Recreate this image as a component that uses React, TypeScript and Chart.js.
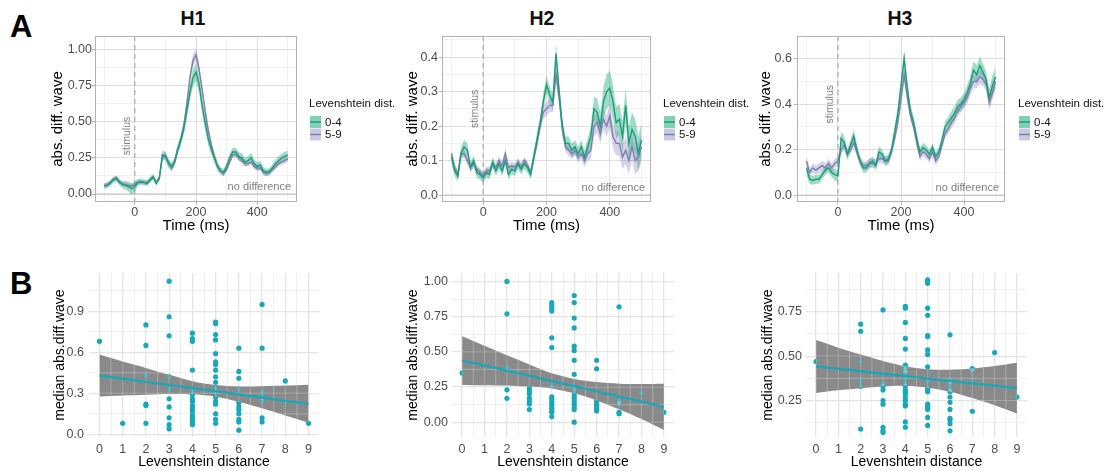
import React, { useEffect, useRef } from "react";
import { Chart, registerables } from "chart.js";

Chart.register(...registerables);

const FONT = "'Liberation Sans', Arial, Helvetica, sans-serif";

// ---------------- data: panel A (time courses) ----------------
const TIMES = [
  -100, -90, -80, -70, -60, -50, -40, -30, -20, -10,
  0, 10, 20, 30, 40, 50, 60, 70, 80, 90,
  100, 110, 120, 130, 140, 150, 160, 170, 180, 190,
  200, 210, 220, 230, 240, 250, 260, 270, 280, 290,
  300, 310, 320, 330, 340, 350, 360, 370, 380, 390,
  400, 410, 420, 430, 440, 450, 460, 470, 480, 490,
  500,
];

const H1_04 = [
  0.055, 0.06, 0.075, 0.10, 0.105, 0.08, 0.065, 0.06, 0.05, 0.035,
  0.05, 0.08, 0.085, 0.08, 0.075, 0.10, 0.12, 0.075, 0.11, 0.27,
  0.26, 0.21, 0.19, 0.22, 0.31, 0.37, 0.45, 0.57, 0.70, 0.80,
  0.84, 0.76, 0.61, 0.49, 0.38, 0.31, 0.25, 0.19, 0.16, 0.15,
  0.19, 0.25, 0.29, 0.29, 0.26, 0.25, 0.22, 0.23, 0.25, 0.21,
  0.19, 0.20, 0.16, 0.15, 0.155, 0.18, 0.21, 0.23, 0.25, 0.26,
  0.27,
];
const H1_04_SE = [
  0.02, 0.02, 0.02, 0.02, 0.02, 0.02, 0.025, 0.03, 0.035, 0.04,
  0.035, 0.025, 0.02, 0.02, 0.02, 0.02, 0.02, 0.02, 0.02, 0.03,
  0.03, 0.03, 0.03, 0.03, 0.035, 0.04, 0.045, 0.05, 0.055, 0.06,
  0.06, 0.06, 0.055, 0.05, 0.045, 0.04, 0.035, 0.03, 0.025, 0.025,
  0.025, 0.03, 0.03, 0.03, 0.03, 0.03, 0.03, 0.03, 0.035, 0.03,
  0.03, 0.03, 0.025, 0.025, 0.025, 0.025, 0.03, 0.03, 0.03, 0.03,
  0.03,
];
const H1_59 = [
  0.06, 0.065, 0.08, 0.10, 0.115, 0.085, 0.07, 0.065, 0.06, 0.055,
  0.065, 0.08, 0.085, 0.08, 0.075, 0.095, 0.115, 0.08, 0.105, 0.25,
  0.27, 0.22, 0.18, 0.22, 0.30, 0.37, 0.47, 0.62, 0.80, 0.92,
  0.96, 0.86, 0.72, 0.57, 0.44, 0.34, 0.26, 0.20, 0.16, 0.14,
  0.17, 0.22, 0.27, 0.27, 0.25, 0.23, 0.21, 0.21, 0.22, 0.19,
  0.18, 0.18, 0.15, 0.14, 0.15, 0.17, 0.19, 0.21, 0.22, 0.23,
  0.24,
];
const H1_59_SE = [
  0.015, 0.015, 0.015, 0.015, 0.015, 0.015, 0.015, 0.015, 0.015, 0.015,
  0.015, 0.015, 0.015, 0.015, 0.015, 0.015, 0.015, 0.015, 0.015, 0.02,
  0.025, 0.025, 0.025, 0.025, 0.03, 0.03, 0.035, 0.04, 0.04, 0.045,
  0.045, 0.045, 0.04, 0.04, 0.035, 0.03, 0.025, 0.02, 0.02, 0.02,
  0.02, 0.02, 0.02, 0.02, 0.02, 0.02, 0.02, 0.02, 0.02, 0.02,
  0.02, 0.02, 0.02, 0.02, 0.02, 0.02, 0.02, 0.02, 0.02, 0.02,
  0.02,
];

const H2_04 = [
  0.11, 0.07, 0.055, 0.12, 0.14, 0.13, 0.08, 0.10, 0.065, 0.06,
  0.05, 0.065, 0.06, 0.095, 0.07, 0.09, 0.07, 0.10, 0.06, 0.075,
  0.07, 0.09, 0.075, 0.09, 0.08, 0.06, 0.11, 0.16, 0.21, 0.27,
  0.32, 0.29, 0.27, 0.41, 0.30, 0.20, 0.15, 0.15, 0.13, 0.14,
  0.12, 0.14, 0.11, 0.14, 0.17, 0.25, 0.24, 0.20, 0.27, 0.30,
  0.31, 0.27, 0.21, 0.22, 0.17, 0.26, 0.15, 0.19, 0.17, 0.12,
  0.16,
];
const H2_04_SE = [
  0.02, 0.015, 0.015, 0.02, 0.02, 0.02, 0.015, 0.015, 0.015, 0.015,
  0.015, 0.015, 0.015, 0.015, 0.015, 0.015, 0.015, 0.015, 0.015, 0.015,
  0.015, 0.015, 0.015, 0.015, 0.015, 0.015, 0.02, 0.02, 0.02, 0.025,
  0.025, 0.025, 0.025, 0.03, 0.025, 0.025, 0.02, 0.02, 0.02, 0.02,
  0.02, 0.02, 0.02, 0.025, 0.03, 0.035, 0.04, 0.04, 0.045, 0.05,
  0.05, 0.05, 0.045, 0.045, 0.045, 0.05, 0.05, 0.05, 0.05, 0.05,
  0.05,
];
const H2_59 = [
  0.12, 0.08, 0.06, 0.12, 0.12, 0.10, 0.08, 0.09, 0.075, 0.065,
  0.055, 0.07, 0.07, 0.09, 0.08, 0.10, 0.085, 0.12, 0.08, 0.085,
  0.08, 0.095, 0.08, 0.10, 0.085, 0.065, 0.11, 0.15, 0.20, 0.24,
  0.25, 0.26, 0.26, 0.35, 0.28, 0.19, 0.14, 0.13, 0.12, 0.13,
  0.11, 0.12, 0.10, 0.12, 0.13, 0.20, 0.21, 0.18, 0.22, 0.20,
  0.23, 0.17, 0.15, 0.15, 0.11, 0.13, 0.10, 0.14, 0.10, 0.11,
  0.14,
];
const H2_59_SE = [
  0.012, 0.012, 0.012, 0.012, 0.012, 0.012, 0.012, 0.012, 0.012, 0.012,
  0.012, 0.012, 0.012, 0.012, 0.012, 0.012, 0.012, 0.015, 0.012, 0.012,
  0.012, 0.012, 0.012, 0.012, 0.012, 0.012, 0.015, 0.015, 0.015, 0.02,
  0.02, 0.02, 0.02, 0.025, 0.02, 0.02, 0.015, 0.015, 0.015, 0.015,
  0.015, 0.015, 0.02, 0.02, 0.025, 0.03, 0.03, 0.03, 0.03, 0.03,
  0.035, 0.035, 0.035, 0.035, 0.035, 0.04, 0.04, 0.04, 0.04, 0.04,
  0.04,
];

const H3_04 = [
  0.12, 0.07, 0.065, 0.07, 0.07, 0.09, 0.11, 0.12, 0.10, 0.09,
  0.085, 0.25, 0.23, 0.18, 0.22, 0.26, 0.20, 0.15, 0.12, 0.12,
  0.14, 0.15, 0.13, 0.19, 0.18, 0.15, 0.16, 0.20, 0.28, 0.36,
  0.48, 0.60, 0.47, 0.37, 0.32, 0.25, 0.19, 0.21, 0.20, 0.18,
  0.21, 0.17, 0.19, 0.24, 0.30, 0.32, 0.34, 0.36, 0.39, 0.40,
  0.42, 0.45, 0.49, 0.55, 0.53, 0.57, 0.54, 0.51, 0.43, 0.48,
  0.52,
];
const H3_04_SE = [
  0.03, 0.02, 0.02, 0.02, 0.02, 0.02, 0.02, 0.02, 0.02, 0.025,
  0.025, 0.03, 0.03, 0.025, 0.025, 0.03, 0.025, 0.02, 0.02, 0.02,
  0.02, 0.02, 0.02, 0.025, 0.02, 0.02, 0.02, 0.02, 0.025, 0.03,
  0.035, 0.04, 0.035, 0.03, 0.025, 0.025, 0.02, 0.02, 0.02, 0.02,
  0.02, 0.02, 0.02, 0.025, 0.025, 0.025, 0.03, 0.03, 0.03, 0.03,
  0.03, 0.035, 0.035, 0.04, 0.04, 0.04, 0.04, 0.035, 0.04, 0.045,
  0.045,
];
const H3_59 = [
  0.15, 0.10, 0.12, 0.11, 0.12, 0.13, 0.12, 0.14, 0.12, 0.14,
  0.15, 0.20, 0.22, 0.18, 0.20, 0.23, 0.19, 0.15, 0.13, 0.13,
  0.14, 0.14, 0.14, 0.16, 0.16, 0.15, 0.15, 0.19, 0.25, 0.32,
  0.42, 0.53, 0.43, 0.35, 0.30, 0.23, 0.17, 0.19, 0.18, 0.16,
  0.19, 0.15, 0.17, 0.22, 0.27, 0.29, 0.32, 0.34, 0.37, 0.39,
  0.41, 0.43, 0.47, 0.50, 0.50, 0.52, 0.51, 0.49, 0.41, 0.45,
  0.50,
];
const H3_59_SE = [
  0.025, 0.02, 0.02, 0.02, 0.02, 0.02, 0.02, 0.02, 0.02, 0.02,
  0.02, 0.02, 0.02, 0.02, 0.02, 0.02, 0.02, 0.02, 0.02, 0.02,
  0.02, 0.02, 0.02, 0.02, 0.02, 0.02, 0.02, 0.02, 0.02, 0.02,
  0.025, 0.03, 0.025, 0.02, 0.02, 0.02, 0.02, 0.02, 0.02, 0.02,
  0.02, 0.02, 0.02, 0.02, 0.02, 0.02, 0.025, 0.025, 0.025, 0.025,
  0.025, 0.03, 0.03, 0.03, 0.03, 0.03, 0.03, 0.03, 0.035, 0.035,
  0.035,
];

const PANEL_TITLES = ["H1", "H2", "H3"];
const LEGEND_TITLE = "Levenshtein dist.";
const GROUPS = ["0-4", "5-9"];
const STIM_LABEL = "stimulus";
const NO_DIFF_LABEL = "no difference";
const STIM_Y = [0.4, 0.25, 0.4];

const TIME_TICKS = [0, 200, 400];
const TIME_LABELS = ["0", "200", "400"];
const TIME_MINOR = [-100, 100, 300, 500];

const H1_Y_TICKS = [0, 0.25, 0.5, 0.75, 1.0];
const H1_Y_LABELS = ["0.00", "0.25", "0.50", "0.75", "1.00"];
const H1_Y_MINOR = [0.125, 0.375, 0.625, 0.875];
const H2_Y_TICKS = [0, 0.1, 0.2, 0.3, 0.4];
const H2_Y_LABELS = ["0.0", "0.1", "0.2", "0.3", "0.4"];
const H2_Y_MINOR = [0.05, 0.15, 0.25, 0.35, 0.45];
const H3_Y_TICKS = [0, 0.2, 0.4, 0.6];
const H3_Y_LABELS = ["0.0", "0.2", "0.4", "0.6"];
const H3_Y_MINOR = [0.1, 0.3, 0.5];

// ---------------- data: panel B (scatter + linear fit) ----------------
const LEV = [0, 1, 2, 3, 4, 5, 6, 7, 8, 9];
const LEV_LABELS = ["0", "1", "2", "3", "4", "5", "6", "7", "8", "9"];
const LEV_MINOR = [0.5, 1.5, 2.5, 3.5, 4.5, 5.5, 6.5, 7.5, 8.5];

const B1_VALUES = [
  [0.68],
  [0.08],
  [0.80, 0.65, 0.43, 0.22, 0.21, 0.08],
  [1.12, 0.86, 0.72, 0.42, 0.33, 0.26, 0.20, 0.12, 0.07, 0.04],
  [0.74, 0.70, 0.68, 0.47, 0.33, 0.29, 0.26, 0.24, 0.21, 0.19, 0.17, 0.14, 0.12, 0.10, 0.08, 0.07],
  [0.82, 0.81, 0.73, 0.69, 0.59, 0.53, 0.51, 0.47, 0.42, 0.38, 0.34, 0.31, 0.27, 0.24, 0.22, 0.15, 0.11, 0.08],
  [0.63, 0.46, 0.41, 0.33, 0.23, 0.20, 0.18, 0.15, 0.11, 0.09, 0.03],
  [0.95, 0.63, 0.31, 0.27, 0.24, 0.12, 0.09],
  [0.39, 0.24],
  [0.08],
];
const B1_FIT = [0.43, 0.407, 0.384, 0.361, 0.338, 0.315, 0.292, 0.269, 0.245, 0.222];
const B1_HI = [0.583, 0.532, 0.485, 0.435, 0.388, 0.36, 0.35, 0.352, 0.356, 0.362];
const B1_LO = [0.277, 0.284, 0.29, 0.294, 0.292, 0.275, 0.238, 0.19, 0.138, 0.086];

const B2_VALUES = [
  [0.35],
  [],
  [1.0, 0.77, 0.39, 0.23, 0.17],
  [0.24, 0.22, 0.20, 0.17, 0.15, 0.13, 0.09],
  [0.85, 0.83, 0.81, 0.79, 0.60, 0.53, 0.26, 0.18, 0.16, 0.14, 0.12, 0.10, 0.08, 0.07, 0.04],
  [0.90, 0.85, 0.74, 0.67, 0.54, 0.51, 0.44, 0.34, 0.25, 0.22, 0.19, 0.17, 0.15, 0.13, 0.11, 0.09, 0.0],
  [0.44, 0.38, 0.15, 0.13, 0.12, 0.10, 0.09, 0.08],
  [0.82, 0.15, 0.13, 0.07, 0.06],
  [0.21],
  [0.07],
];
const B2_FIT = [0.44, 0.403, 0.366, 0.329, 0.292, 0.256, 0.219, 0.182, 0.146, 0.109];
const B2_HI = [0.61, 0.543, 0.475, 0.41, 0.347, 0.307, 0.285, 0.274, 0.272, 0.274];
const B2_LO = [0.265, 0.263, 0.26, 0.253, 0.24, 0.205, 0.155, 0.092, 0.022, -0.056];

const B3_VALUES = [
  [0.47],
  [],
  [0.68, 0.64, 0.47, 0.36, 0.33, 0.09],
  [0.76, 0.35, 0.33, 0.31, 0.25, 0.23, 0.10, 0.08, 0.07],
  [0.78, 0.77, 0.69, 0.60, 0.54, 0.45, 0.44, 0.42, 0.41, 0.38, 0.35, 0.33, 0.31, 0.30, 0.29, 0.27, 0.25, 0.23, 0.22, 0.13, 0.10],
  [0.93, 0.92, 0.91, 0.77, 0.73, 0.615, 0.61, 0.535, 0.51, 0.44, 0.36, 0.32, 0.31, 0.30, 0.23, 0.22, 0.21, 0.20, 0.155, 0.11],
  [0.62, 0.36, 0.34, 0.31, 0.30, 0.27, 0.24, 0.20, 0.15, 0.14, 0.12, 0.08],
  [0.43, 0.42, 0.35, 0.19],
  [0.52],
  [0.27],
];
const B3_FIT = [0.442, 0.428, 0.415, 0.401, 0.388, 0.374, 0.361, 0.347, 0.334, 0.32];
const B3_HI = [0.591, 0.548, 0.51, 0.473, 0.443, 0.426, 0.423, 0.43, 0.444, 0.463];
const B3_LO = [0.293, 0.308, 0.32, 0.329, 0.333, 0.322, 0.299, 0.264, 0.224, 0.177];

const B1_Y_TICKS = [0, 0.3, 0.6, 0.9];
const B1_Y_LABELS = ["0.0", "0.3", "0.6", "0.9"];
const B1_Y_MINOR = [0.15, 0.45, 0.75, 1.05];
const B2_Y_TICKS = [0, 0.25, 0.5, 0.75, 1.0];
const B2_Y_LABELS = ["0.00", "0.25", "0.50", "0.75", "1.00"];
const B2_Y_MINOR = [0.125, 0.375, 0.625, 0.875];
const B3_Y_TICKS = [0.25, 0.5, 0.75];
const B3_Y_LABELS = ["0.25", "0.50", "0.75"];
const B3_Y_MINOR = [0.125, 0.375, 0.625, 0.875];

// ---------------- styles ----------------
const G_LINE = "#1b9e77";
const P_LINE = "#7d7fae";
const G_BAND = "rgba(27,170,125,0.42)";
const P_BAND = "rgba(125,122,185,0.32)";
const G_KEY = "rgba(27,170,125,0.55)";
const P_KEY = "rgba(125,122,185,0.4)";
const TEAL = "#17a8b9";
const GRAY_BAND = "rgba(60,60,60,0.6)";
const AXIS_TEXT = "#4d4d4d";
const NONE = "rgba(0,0,0,0)";

type Rect = { l: number; t: number; w: number; h: number };
type Plot = { l: number; t: number; r: number; b: number };
type Tk = { value: number; minor: boolean };

function tickSet(major: number[], minor: number[]): Tk[] {
  return [
    ...major.map((v) => ({ value: v, minor: false })),
    ...minor.map((v) => ({ value: v, minor: true })),
  ].sort((a, b) => a.value - b.value);
}

function labeler(major: number[], labels: string[]) {
  return (value: number) => {
    const i = major.indexOf(value);
    return i >= 0 ? labels[i] : "";
  };
}

function line(ctx: CanvasRenderingContext2D, x1: number, y1: number, x2: number, y2: number) {
  ctx.beginPath();
  ctx.moveTo(x1, y1);
  ctx.lineTo(x2, y2);
  ctx.stroke();
}

interface TopSpec {
  idx: number;
  canvas: Rect;
  plot: Plot;
  yTitleX: number;
  yLabelRight: number;
  legendX: number;
  m04: number[];
  s04: number[];
  m59: number[];
  s59: number[];
  yMin: number;
  yMax: number;
  yTicks: number[];
  yLabels: string[];
  yMinor: number[];
}

function buildTop(sp: TopSpec) {
  const c = sp.canvas;
  const p = sp.plot;
  const yAxisW = p.l - c.l;
  const padTop = p.t - c.t;
  const padRight = c.l + c.w - p.r;
  const xAxisH = c.t + c.h - p.b;
  const tickLen = 3;
  const ser = (m: number[], s: number[], k: number) => TIMES.map((t, i) => ({ x: t, y: m[i] + k * s[i] }));
  const lineDs = (label: string, data: any[], color: string) => ({
    label, data, borderColor: color, borderWidth: 1.4, pointRadius: 0, fill: false, tension: 0,
  });
  const bandDs = (label: string, data: any[], fill: any, bg: string) => ({
    label, data, borderColor: NONE, borderWidth: 0, pointRadius: 0, fill, backgroundColor: bg, tension: 0,
  });
  const xT = tickSet(TIME_TICKS, TIME_MINOR);
  const yT = tickSet(sp.yTicks, sp.yMinor);
  const grid = {
    color: (ctx: any) => (ctx.tick && ctx.tick.minor ? "#eeeeee" : "#dedede"),
    lineWidth: (ctx: any) => (ctx.tick && ctx.tick.minor ? 0.8 : 1),
    drawTicks: true,
    tickLength: tickLen,
    tickColor: (ctx: any) => (ctx.tick && ctx.tick.minor ? NONE : "#b3b3b3"),
    tickWidth: 1,
  };
  const decor = {
    id: "topDecor" + sp.idx,
    beforeDatasetsDraw(chart: any) {
      const { ctx, chartArea: a, scales } = chart;
      const x = scales.x;
      const y = scales.y;
      ctx.save();
      const y0 = y.getPixelForValue(0);
      ctx.strokeStyle = "#bdbdbd";
      ctx.lineWidth = 1;
      line(ctx, a.left, y0, a.right, y0);
      const x0 = x.getPixelForValue(0);
      ctx.setLineDash([5, 4]);
      ctx.strokeStyle = "#a9a9a9";
      ctx.lineWidth = 1.2;
      line(ctx, x0, a.top, x0, a.bottom);
      ctx.setLineDash([]);
      ctx.translate(x0 - 8, y.getPixelForValue(STIM_Y[sp.idx]));
      ctx.rotate(-Math.PI / 2);
      ctx.font = `10.5px ${FONT}`;
      ctx.fillStyle = "#808080";
      ctx.textAlign = "center";
      ctx.textBaseline = "middle";
      ctx.fillText(STIM_LABEL, 0, 0);
      ctx.restore();
    },
    afterDraw(chart: any) {
      const { ctx, chartArea: a, scales } = chart;
      const y = scales.y;
      ctx.save();
      ctx.strokeStyle = "#b3b3b3";
      ctx.lineWidth = 1;
      ctx.strokeRect(Math.round(a.left) + 0.5, Math.round(a.top) + 0.5, Math.round(a.right - a.left) - 1, Math.round(a.bottom - a.top) - 1);
      ctx.font = `11px ${FONT}`;
      ctx.fillStyle = "#808080";
      ctx.textAlign = "right";
      ctx.textBaseline = "middle";
      ctx.fillText(NO_DIFF_LABEL, a.right - 6, y.getPixelForValue(0) - 7);
      const lx = sp.legendX - c.l;
      ctx.textAlign = "left";
      ctx.fillStyle = "#111";
      ctx.font = `11.5px ${FONT}`;
      ctx.fillText(LEGEND_TITLE, lx, 103.5 - c.t);
      GROUPS.forEach((g, i) => {
        const ky = 116 + i * 12.5 - c.t;
        ctx.fillStyle = i === 0 ? G_KEY : P_KEY;
        ctx.fillRect(lx + 1, ky, 11, 12);
        ctx.strokeStyle = i === 0 ? G_LINE : P_LINE;
        ctx.lineWidth = 1.5;
        line(ctx, lx + 1, ky + 6, lx + 12, ky + 6);
        ctx.fillStyle = "#111";
        ctx.font = `11.5px ${FONT}`;
        ctx.fillText(g, lx + 16, ky + 6.5);
      });
      ctx.restore();
    },
  };
  return {
    type: "line",
    data: {
      datasets: [
        lineDs(GROUPS[0], ser(sp.m04, sp.s04, 0), G_LINE),
        lineDs(GROUPS[1], ser(sp.m59, sp.s59, 0), P_LINE),
        bandDs(GROUPS[1] + " upper", ser(sp.m59, sp.s59, 1), "+1", P_BAND),
        bandDs(GROUPS[1] + " lower", ser(sp.m59, sp.s59, -1), false, P_BAND),
        bandDs(GROUPS[0] + " upper", ser(sp.m04, sp.s04, 1), "+1", G_BAND),
        bandDs(GROUPS[0] + " lower", ser(sp.m04, sp.s04, -1), false, G_BAND),
      ],
    },
    options: {
      animation: false,
      responsive: false,
      devicePixelRatio: 1,
      layout: { padding: { left: 0, right: padRight, top: padTop, bottom: 0 } },
      plugins: { legend: { display: false }, tooltip: { enabled: false } },
      scales: {
        x: {
          type: "linear",
          min: -130,
          max: 530,
          bounds: "data",
          afterFit: (s: any) => { s.height = xAxisH; },
          afterBuildTicks: (s: any) => { s.ticks = xT.map((t) => ({ ...t })); },
          ticks: {
            autoSkip: false, maxRotation: 0, minRotation: 0, padding: 0,
            color: AXIS_TEXT, font: { family: FONT, size: 12.5 },
            callback: labeler(TIME_TICKS, TIME_LABELS),
          },
          grid,
          border: { display: false },
          title: { display: true, text: "Time (ms)", color: "#000", font: { family: FONT, size: 15 }, padding: { top: 0, bottom: 5 } },
        },
        y: {
          type: "linear",
          min: sp.yMin,
          max: sp.yMax,
          bounds: "data",
          afterFit: (s: any) => { s.width = yAxisW; },
          afterBuildTicks: (s: any) => { s.ticks = yT.map((t) => ({ ...t })); },
          ticks: {
            autoSkip: false, padding: Math.max(0, p.l - tickLen - sp.yLabelRight),
            color: AXIS_TEXT, font: { family: FONT, size: 12.5 },
            callback: labeler(sp.yTicks, sp.yLabels),
          },
          grid,
          border: { display: false },
          title: { display: true, text: "abs. diff. wave", color: "#000", font: { family: FONT, size: 15 }, padding: { top: sp.yTitleX - c.l - 9, bottom: 0 } },
        },
      },
    },
    plugins: [decor],
  };
}

interface BotSpec {
  idx: number;
  canvas: Rect;
  plot: Plot;
  yTitleX: number;
  yLabelRight: number;
  values: number[][];
  fit: number[];
  hi: number[];
  lo: number[];
  yMin: number;
  yMax: number;
  yTicks: number[];
  yLabels: string[];
  yMinor: number[];
}

function buildBottom(sp: BotSpec) {
  const c = sp.canvas;
  const p = sp.plot;
  const yAxisW = p.l - c.l;
  const padTop = p.t - c.t;
  const padRight = c.l + c.w - p.r;
  const xAxisH = c.t + c.h - p.b;
  const xT = tickSet(LEV, LEV_MINOR);
  const yT = tickSet(sp.yTicks, sp.yMinor);
  const pts: { x: number; y: number }[] = [];
  LEV.forEach((d) => sp.values[d].forEach((v) => pts.push({ x: d, y: v })));
  const grid = {
    color: (ctx: any) => (ctx.tick && ctx.tick.minor ? "#efefef" : "#e4e4e4"),
    lineWidth: (ctx: any) => (ctx.tick && ctx.tick.minor ? 1 : 1.3),
    drawTicks: false,
  };
  const decor = {
    id: "botDecor" + sp.idx,
    afterDatasetDraw(chart: any, args: any) {
      if (args.index !== 1) return;
      const hi = chart.getDatasetMeta(1).data;
      const lo = chart.getDatasetMeta(2).data;
      const dots = chart.getDatasetMeta(3).data;
      const { ctx, chartArea: a, scales } = chart;
      ctx.save();
      ctx.beginPath();
      hi.forEach((q: any, i: number) => (i ? ctx.lineTo(q.x, q.y) : ctx.moveTo(q.x, q.y)));
      for (let i = lo.length - 1; i >= 0; i--) ctx.lineTo(lo[i].x, lo[i].y);
      ctx.closePath();
      ctx.clip();
      ctx.strokeStyle = "rgba(255,255,255,0.3)";
      ctx.lineWidth = 1;
      xT.forEach((t) => { const px = scales.x.getPixelForValue(t.value); line(ctx, px, a.top, px, a.bottom); });
      yT.forEach((t) => { const py = scales.y.getPixelForValue(t.value); line(ctx, a.left, py, a.right, py); });
      ctx.fillStyle = "rgba(150,225,235,0.5)";
      dots.forEach((q: any) => { ctx.beginPath(); ctx.arc(q.x, q.y, 2.6, 0, Math.PI * 2); ctx.fill(); });
      ctx.restore();
    },
  };
  return {
    type: "line",
    data: {
      datasets: [
        { label: "fit", data: LEV.map((x, i) => ({ x, y: sp.fit[i] })), borderColor: TEAL, borderWidth: 2.3, pointRadius: 0, fill: false, tension: 0 },
        { label: "ci upper", data: LEV.map((x, i) => ({ x, y: sp.hi[i] })), borderColor: NONE, borderWidth: 0, pointRadius: 0, fill: "+1", backgroundColor: GRAY_BAND, tension: 0.3 },
        { label: "ci lower", data: LEV.map((x, i) => ({ x, y: sp.lo[i] })), borderColor: NONE, borderWidth: 0, pointRadius: 0, fill: false, tension: 0.3 },
        { label: "words", data: pts, showLine: false, pointRadius: 2.6, pointBackgroundColor: TEAL, pointBorderWidth: 0, borderColor: NONE, backgroundColor: TEAL },
      ],
    },
    options: {
      animation: false,
      responsive: false,
      devicePixelRatio: 1,
      layout: { padding: { left: 0, right: padRight, top: padTop, bottom: 0 } },
      plugins: { legend: { display: false }, tooltip: { enabled: false } },
      scales: {
        x: {
          type: "linear",
          min: -0.45,
          max: 9.45,
          bounds: "data",
          afterFit: (s: any) => { s.height = xAxisH; },
          afterBuildTicks: (s: any) => { s.ticks = xT.map((t) => ({ ...t })); },
          ticks: {
            autoSkip: false, maxRotation: 0, minRotation: 0, padding: 5,
            color: AXIS_TEXT, font: { family: FONT, size: 12.5 },
            callback: labeler(LEV, LEV_LABELS),
          },
          grid,
          border: { display: false },
          title: { display: true, text: "Levenshtein distance", color: "#000", font: { family: FONT, size: 14 }, padding: { top: 0, bottom: 0 } },
        },
        y: {
          type: "linear",
          min: sp.yMin,
          max: sp.yMax,
          bounds: "data",
          afterFit: (s: any) => { s.width = yAxisW; },
          afterBuildTicks: (s: any) => { s.ticks = yT.map((t) => ({ ...t })); },
          ticks: {
            autoSkip: false, padding: p.l - sp.yLabelRight,
            color: AXIS_TEXT, font: { family: FONT, size: 12.5 },
            callback: labeler(sp.yTicks, sp.yLabels),
          },
          grid,
          border: { display: false },
          title: { display: true, text: "median abs.diff.wave", color: "#000", font: { family: FONT, size: 14 }, padding: { top: sp.yTitleX - c.l - 8.4, bottom: 0 } },
        },
      },
    },
    plugins: [decor],
  };
}

function ChartBox({ rect, build }: { rect: Rect; build: () => any }) {
  const ref = useRef<HTMLCanvasElement | null>(null);
  useEffect(() => {
    if (!ref.current) return;
    const chart = new Chart(ref.current, build());
    return () => chart.destroy();
  }, []);
  return (
    <div style={{ position: "absolute", left: rect.l, top: rect.t, width: rect.w, height: rect.h }}>
      <canvas ref={ref} width={rect.w} height={rect.h} style={{ width: rect.w, height: rect.h, display: "block" }} />
    </div>
  );
}

const TOP_SPECS: TopSpec[] = [
  {
    idx: 0, canvas: { l: 40, t: 0, w: 355, h: 240 }, plot: { l: 95, t: 36, r: 297, b: 202 },
    yTitleX: 58, yLabelRight: 92, legendX: 309,
    m04: H1_04, s04: H1_04_SE, m59: H1_59, s59: H1_59_SE,
    yMin: -0.055, yMax: 1.09, yTicks: H1_Y_TICKS, yLabels: H1_Y_LABELS, yMinor: H1_Y_MINOR,
  },
  {
    idx: 1, canvas: { l: 395, t: 0, w: 355, h: 240 }, plot: { l: 442, t: 36, r: 651, b: 202 },
    yTitleX: 413, yLabelRight: 438, legendX: 663,
    m04: H2_04, s04: H2_04_SE, m59: H2_59, s59: H2_59_SE,
    yMin: -0.02, yMax: 0.461, yTicks: H2_Y_TICKS, yLabels: H2_Y_LABELS, yMinor: H2_Y_MINOR,
  },
  {
    idx: 2, canvas: { l: 750, t: 0, w: 356, h: 240 }, plot: { l: 797, t: 36, r: 1005, b: 202 },
    yTitleX: 766, yLabelRight: 792, legendX: 1018,
    m04: H3_04, s04: H3_04_SE, m59: H3_59, s59: H3_59_SE,
    yMin: -0.03, yMax: 0.70, yTicks: H3_Y_TICKS, yLabels: H3_Y_LABELS, yMinor: H3_Y_MINOR,
  },
];

const BOT_SPECS: BotSpec[] = [
  {
    idx: 0, canvas: { l: 40, t: 240, w: 330, h: 231 }, plot: { l: 89, t: 273, r: 319, b: 437 },
    yTitleX: 60, yLabelRight: 84,
    values: B1_VALUES, fit: B1_FIT, hi: B1_HI, lo: B1_LO,
    yMin: -0.02, yMax: 1.18, yTicks: B1_Y_TICKS, yLabels: B1_Y_LABELS, yMinor: B1_Y_MINOR,
  },
  {
    idx: 1, canvas: { l: 395, t: 240, w: 330, h: 231 }, plot: { l: 452, t: 273, r: 674, b: 437 },
    yTitleX: 413, yLabelRight: 448,
    values: B2_VALUES, fit: B2_FIT, hi: B2_HI, lo: B2_LO,
    yMin: -0.105, yMax: 1.06, yTicks: B2_Y_TICKS, yLabels: B2_Y_LABELS, yMinor: B2_Y_MINOR,
  },
  {
    idx: 2, canvas: { l: 750, t: 240, w: 356, h: 231 }, plot: { l: 806, t: 273, r: 1027, b: 437 },
    yTitleX: 768, yLabelRight: 802,
    values: B3_VALUES, fit: B3_FIT, hi: B3_HI, lo: B3_LO,
    yMin: 0.045, yMax: 0.968, yTicks: B3_Y_TICKS, yLabels: B3_Y_LABELS, yMinor: B3_Y_MINOR,
  },
];

const TITLE_CENTERS = [193, 542, 900];

export default function App() {
  const letter = (txt: string, top: number) => (
    <div style={{ position: "absolute", left: 10, top, fontFamily: FONT, fontWeight: 700, fontSize: 31, lineHeight: "31px", color: "#000" }}>{txt}</div>
  );
  return (
    <div style={{ position: "fixed", left: 0, top: 0, width: 1106, height: 471, background: "#fff", overflow: "hidden" }}>
      {letter("A", 11)}
      {letter("B", 268)}
      {PANEL_TITLES.map((t, i) => (
        <div key={t} style={{ position: "absolute", left: TITLE_CENTERS[i] - 50, top: 9, width: 100, textAlign: "center", fontFamily: FONT, fontWeight: 700, fontSize: 19.5, lineHeight: "19px", color: "#111" }}>{t}</div>
      ))}
      {TOP_SPECS.map((sp) => (
        <ChartBox key={"top" + sp.idx} rect={sp.canvas} build={() => buildTop(sp)} />
      ))}
      {BOT_SPECS.map((sp) => (
        <ChartBox key={"bot" + sp.idx} rect={sp.canvas} build={() => buildBottom(sp)} />
      ))}
    </div>
  );
}
